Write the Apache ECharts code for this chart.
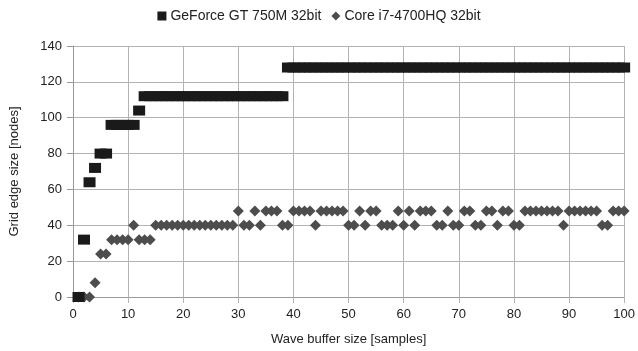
<!DOCTYPE html>
<html>
<head>
<meta charset="utf-8">
<script src="https://cdn.jsdelivr.net/npm/echarts@6/dist/echarts.min.js"></script>
<style>
  html, body { margin: 0; padding: 0; background: #fff; }
  #chart { width: 638px; height: 351px; }
</style>
</head>
<body>
<div id="chart"></div>
<script>
// wave buffer size 1..100
const bufferSizes = Array.from({ length: 100 }, (_, i) => i + 1);

// GeForce GT 750M 32bit
const gpuValues = [
  0, 32, 64, 72, 80, 80, 96, 96, 96, 96,
  96, 104, 112, 112, 112, 112, 112, 112, 112, 112,
  112, 112, 112, 112, 112, 112, 112, 112, 112, 112,
  112, 112, 112, 112, 112, 112, 112, 112, 128, 128,
  128, 128, 128, 128, 128, 128, 128, 128, 128, 128,
  128, 128, 128, 128, 128, 128, 128, 128, 128, 128,
  128, 128, 128, 128, 128, 128, 128, 128, 128, 128,
  128, 128, 128, 128, 128, 128, 128, 128, 128, 128,
  128, 128, 128, 128, 128, 128, 128, 128, 128, 128,
  128, 128, 128, 128, 128, 128, 128, 128, 128, 128,
];

// Core i7-4700HQ 32bit
const cpuValues = [
  0, 0, 0, 8, 24, 24, 32, 32, 32, 32,
  40, 32, 32, 32, 40, 40, 40, 40, 40, 40,
  40, 40, 40, 40, 40, 40, 40, 40, 40, 48,
  40, 40, 48, 40, 48, 48, 48, 40, 40, 48,
  48, 48, 48, 40, 48, 48, 48, 48, 48, 40,
  40, 48, 40, 48, 48, 40, 40, 40, 48, 40,
  48, 40, 48, 48, 48, 40, 40, 48, 40, 40,
  48, 48, 40, 40, 48, 48, 40, 48, 48, 40,
  40, 48, 48, 48, 48, 48, 48, 48, 40, 48,
  48, 48, 48, 48, 48, 40, 40, 48, 48, 48,
];

const seriesNames = ['GeForce GT 750M 32bit', 'Core i7-4700HQ 32bit'];

const chart = echarts.init(document.getElementById('chart'));

const textStyle = {
  fontFamily: 'Liberation Sans',
  fontSize: 13,
  color: '#222',
};

chart.setOption({
  animation: false,
  textStyle: textStyle,
  legend: {
    top: 9,
    left: 'center',
    padding: 0,
    itemGap: 10,
    itemWidth: 9,
    itemHeight: 9,
    textStyle: { ...textStyle, fontSize: 14, padding: [0, 0, 0, -1] },
    data: [
      { name: seriesNames[0], icon: 'rect' },
      { name: seriesNames[1], icon: 'diamond' },
    ],
  },
  grid: {
    left: 71,
    right: 12,
    top: 46,
    bottom: 53,
  },
  xAxis: {
    type: 'value',
    min: 0,
    max: 100,
    interval: 10,
    name: 'Wave buffer size [samples]',
    nameLocation: 'middle',
    nameGap: 36,
    nameTextStyle: { ...textStyle, fontSize: 13 },
    axisLine: { show: true, lineStyle: { color: '#999' } },
    axisTick: { show: true, length: 6, lineStyle: { color: '#b3b3b3' } },
    axisLabel: { ...textStyle, margin: 11 },
    splitLine: { show: true, lineStyle: { color: '#b3b3b3' } },
  },
  yAxis: {
    type: 'value',
    min: 0,
    max: 140,
    interval: 20,
    name: 'Grid edge size [nodes]',
    nameLocation: 'middle',
    nameGap: 52,
    nameRotate: 90,
    nameTextStyle: { ...textStyle, fontSize: 13 },
    axisLine: { show: true, lineStyle: { color: '#999' } },
    axisTick: { show: true, length: 6, lineStyle: { color: '#999' } },
    axisLabel: { ...textStyle, margin: 11 },
    splitLine: { show: true, lineStyle: { color: '#b3b3b3' } },
  },
  series: [
    {
      name: seriesNames[0],
      type: 'scatter',
      symbol: 'rect',
      symbolSize: [12, 10],
      z: 3,
      itemStyle: { color: '#1a1a1a', opacity: 1 },
      data: bufferSizes.map((x, i) => [x, gpuValues[i]]),
    },
    {
      name: seriesNames[1],
      type: 'scatter',
      symbol: 'diamond',
      symbolSize: [11, 11],
      z: 2,
      itemStyle: { color: '#4d4d4d', opacity: 1 },
      data: bufferSizes.map((x, i) => [x, cpuValues[i]]),
    },
  ],
});
</script>
</body>
</html>
